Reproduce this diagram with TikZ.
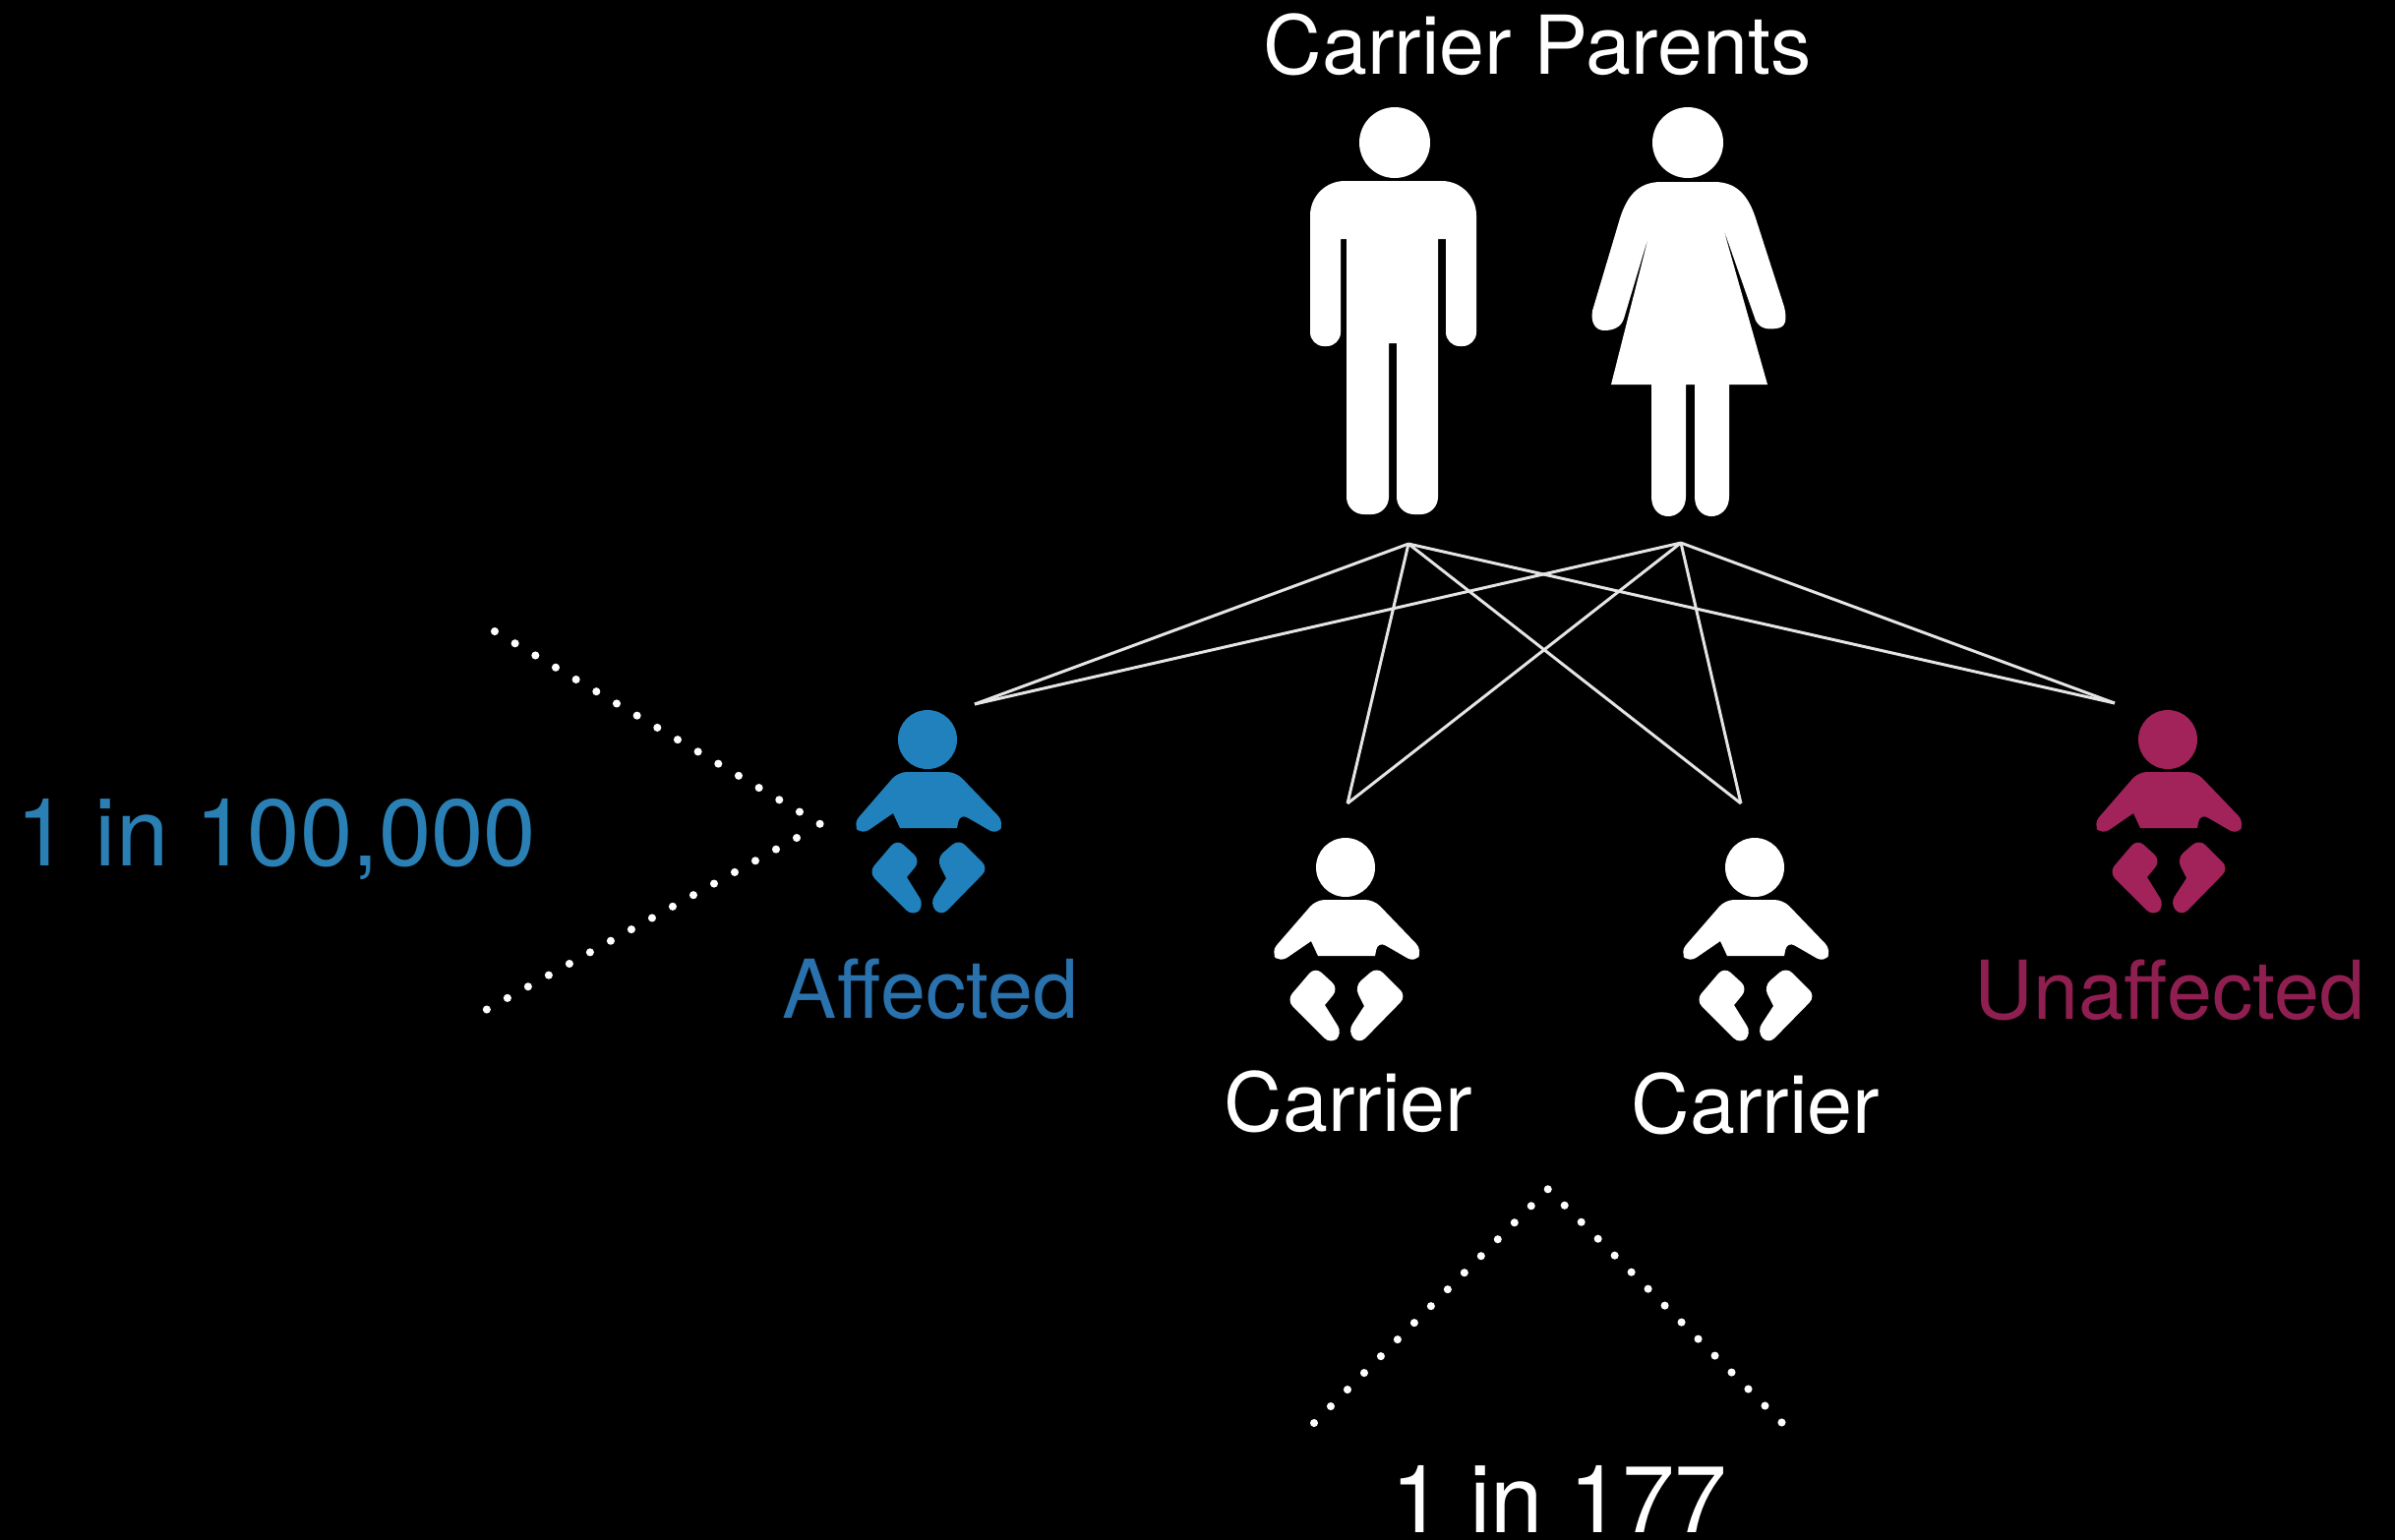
\documentclass[tikz,border=0pt]{standalone}
\usepackage{fontspec}
\setmainfont{TeX Gyre Heros}
\definecolor{affblue}{HTML}{2181BC}
\definecolor{afftext}{HTML}{2A72AE}
\definecolor{countblue}{HTML}{2A80B5}
\definecolor{unaffred}{HTML}{A1235A}
\definecolor{unafftext}{HTML}{8F1F50}
\tikzset{
  person/.style={fill=white},
  link/.style={draw=white!90!black,line width=0.85pt},
  dots/.style={draw=white,line width=2.3pt,line cap=round,dash pattern=on 0pt off 0.24cm},
  tag/.style={anchor=base,inner sep=0pt,text=white,font=\fontsize{23.5}{28}\selectfont},
  count/.style={anchor=base,inner sep=0pt,text=white,font=\fontsize{27.3}{32}\selectfont},
  pics/baby/.style={code={
    \fill[#1] (0,0) circle[radius=30];
    \fill[#1,rounded corners=2.5pt] (-30,33) -- (29,33) -- (78,84) -- (71,97) -- (33,75) [sharp corners] -- (30,90) -- (-28,90) -- (-35,75) [rounded corners=2.5pt] -- (-67,97) -- (-76,86) -- cycle;
    \fill[#1,rounded corners=2.5pt] (-31,101) -- (-7,123) [sharp corners] -- (-21,140) [rounded corners=2.5pt] -- (-3,169) -- (-15,180) -- (-60,135) -- cycle;
    \fill[#1,rounded corners=2.5pt] (32,101) -- (62,131) -- (14,180) -- (2,167) [sharp corners] -- (19,141) [rounded corners=2.5pt] -- (9,121) -- cycle;
  }}
}
\begin{document}
\begin{tikzpicture}[x=0.01cm,y=-0.01cm]
\useasboundingbox (0,0) rectangle (2435,1565);
\fill[black] (-10,-10) rectangle (2445,1575);

% parents
\fill[person] (1418,145) circle[radius=36];
\fill[person] (1332,300) [rounded corners=10pt] -- (1332,184) -- (1501,184) [rounded corners=4pt] -- (1501,352) -- (1470,352) [sharp corners] -- (1470,243) -- (1462,243) [rounded corners=5pt] -- (1462,523) -- (1420,523) [sharp corners] -- (1420,349) -- (1412,349) [rounded corners=5pt] -- (1412,523) -- (1369,523) [sharp corners] -- (1369,243) -- (1363,243) [rounded corners=4pt] -- (1363,352) -- (1332,352) -- cycle;
\fill[person] (1716,145) circle[radius=36];
\fill[person] (1689,185) -- (1743,185) .. controls (1768,185) and (1779,202) .. (1786,225) -- (1814,312) .. controls (1817,325) and (1816,333) .. (1806,334) .. controls (1798,335) and (1790,335) .. (1785,326) -- (1752,232) -- (1797,391) -- (1758,391) -- (1758,505) .. controls (1758,518) and (1749,525) .. (1740,525) .. controls (1731,525) and (1723,518) .. (1723,505) -- (1723,391) -- (1714,391) -- (1714,505) .. controls (1714,518) and (1705,525) .. (1696,525) .. controls (1687,525) and (1679,518) .. (1679,505) -- (1679,391) -- (1638,391) -- (1677,237) -- (1651,324) .. controls (1648,333) and (1640,336) .. (1631,336) .. controls (1622,336) and (1617,328) .. (1619,316) -- (1647,222) .. controls (1654,200) and (1665,185) .. (1689,185) -- cycle;

% babies
\pic (affbaby) at (943,752) {baby=affblue};
\pic (carbabya) at (1368,882) {baby=white};
\pic (carbabyb) at (1784,882) {baby=white};
\pic (unaffbaby) at (2204,752) {baby=unaffred};

% links
\coordinate (father) at (1432,553);
\coordinate (mother) at (1709,552);
\coordinate (affected) at (991,716);
\coordinate (carriera) at (1370,817);
\coordinate (carrierb) at (1770,817);
\coordinate (unaffected) at (2150,715);
\draw[link] (father) -- (affected);
\draw[link] (mother) -- (affected);
\draw[link] (father) -- (carriera);
\draw[link] (mother) -- (carriera);
\draw[link] (father) -- (carrierb);
\draw[link] (mother) -- (carrierb);
\draw[link] (father) -- (unaffected);
\draw[link] (mother) -- (unaffected);

% labels
\node[tag] (parents) at (1563,75) {Carrier Parents};
\node[tag,text=afftext] (afflabel) at (946,1035) {Affected};
\node[tag] (carlabela) at (1371,1150) {Carrier};
\node[tag] (carlabelb) at (1785,1152) {Carrier};
\node[tag,text=unafftext] (unafflabel) at (2206,1036) {Unaffected};
\node[count,text=countblue] (affcount) at (281,880) {1 in 100,000};
\node[count] (carcount) at (1585,1558) {1 in 177};

% dotted brackets
\coordinate (afftop) at (503,642);
\coordinate (afftip) at (834,838);
\coordinate (affnext) at (810,852);
\coordinate (affbot) at (494,1027);
\coordinate (carleft) at (1336,1447);
\coordinate (cartip) at (1574,1209);
\coordinate (carright) at (1812,1447);
\draw[dots] (afftop) -- (afftip);
\draw[dots] (affnext) -- (affbot);
\draw[dots] (carleft) -- (cartip) -- (carright);
\end{tikzpicture}
\end{document}
